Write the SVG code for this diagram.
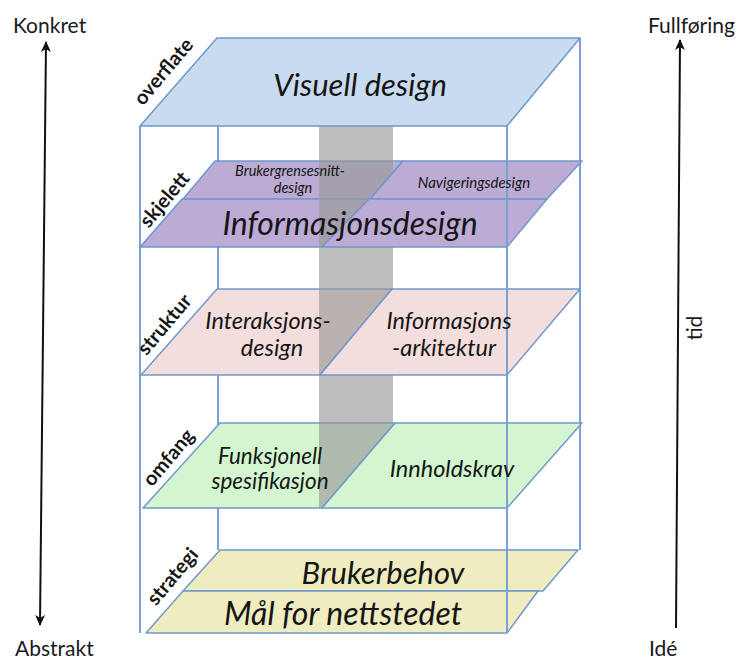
<svg xmlns="http://www.w3.org/2000/svg" width="742" height="660" viewBox="0 0 742 660">
<defs>
<marker id="ah" viewBox="0 0 12 12" refX="10" refY="6" markerWidth="6" markerHeight="6" markerUnits="strokeWidth" orient="auto-start-reverse">
<path d="M0,1 L11,6 L0,11 L3,6 Z" fill="#111"/>
</marker>
<style>
.frame{stroke:#7aa1d2;stroke-width:2;fill:none}
.pl{stroke:#6f98cd;stroke-width:1.5;stroke-linejoin:round}
.blue{fill:#c9dcef}
.purple{fill:#bcabd4}
.pink{fill:#f3dedd}
.green{fill:#d3f6d1}
.yellow{fill:#efedbf}
.it{font-family:Lato,"Open Sans",sans-serif;font-style:italic;fill:#161616;text-anchor:middle}
.side{font-family:Lato,"Open Sans",sans-serif;font-weight:bold;font-size:20px;fill:#161616;text-anchor:middle}
.axis{font-family:Lato,"Open Sans",sans-serif;font-size:21px;fill:#1a1a1a}
.arr{stroke:#111;stroke-width:2;fill:none}
</style>
</defs>
<rect width="742" height="660" fill="#fff"/>

<g id="frame-back">
<line class="frame" x1="218" y1="126" x2="218" y2="550"/>
<line class="frame" x1="580" y1="38" x2="580" y2="550"/>
<line class="frame" x1="140" y1="126" x2="140" y2="633"/>
</g>

<g id="skjelett">
<polygon class="pl purple" points="215,161 403,161 370,199 183,199"/>
<polygon class="pl purple" points="182,199 369,199 322,247 140,247"/>
</g>
<g id="struktur">
<polygon class="pl pink" points="217,289 392,289 320,375 141,375"/>
</g>
<g id="omfang">
<polygon class="pl green" points="220,423 395,423 322,508 143,508"/>
</g>

<g id="kolonne">
<rect x="319" y="126" width="74" height="382" fill="#9a9a9a" opacity="0.65"/>
</g>

<g id="skjelett-hoyre">
<polygon class="pl purple" points="403,161 582,161 547,199 370,199"/>
<polygon class="pl purple" points="369,199 547,199 507,247 322,247"/>
</g>
<g id="struktur-hoyre">
<polygon class="pl pink" points="392,289 580,289 507,375 320,375"/>
</g>
<g id="omfang-hoyre">
<polygon class="pl green" points="395,423 582,423 507,508 322,508"/>
</g>

<g id="overflate">
<polygon class="pl blue" points="217,38 580,38 507,126 140,126"/>
</g>

<g id="strategi">
<polygon class="pl yellow" points="220,550 578,550 543,591 183,591"/>
<polygon class="pl yellow" points="183,591 538,591 507,633 146,633"/>
</g>

<g id="frame-front">
<line class="frame" x1="507" y1="126" x2="507" y2="633"/>
</g>

<g id="tekster">
<text class="it" x="360" y="96" font-size="31">Visuell design</text>
<text class="it" x="290" y="176" font-size="14.5">Brukergrensesnitt-</text>
<text class="it" x="293" y="193" font-size="14.5">design</text>
<text class="it" x="474" y="188" font-size="15">Navigeringsdesign</text>
<text class="it" x="350" y="235" font-size="32">Informasjonsdesign</text>
<text class="it" x="268" y="329" font-size="23.5">Interaksjons-</text>
<text class="it" x="272" y="356" font-size="23.5">design</text>
<text class="it" x="449" y="329" font-size="23.5">Informasjons</text>
<text class="it" x="444" y="356" font-size="23.5">-arkitektur</text>
<text class="it" x="270" y="464" font-size="22.5">Funksjonell</text>
<text class="it" x="270" y="489" font-size="22.5">spesifikasjon</text>
<text class="it" x="452" y="477" font-size="23.5">Innholdskrav</text>
<text class="it" x="383" y="584" font-size="31">Brukerbehov</text>
<text class="it" x="343" y="625" font-size="32">Mål for nettstedet</text>
</g>

<g id="nivaa">
<text class="side" transform="translate(164,72) rotate(-50)" dy="0.3em">overflate</text>
<text class="side" transform="translate(165,200) rotate(-50)" dy="0.3em">skjelett</text>
<text class="side" transform="translate(165,325) rotate(-50)" dy="0.3em">struktur</text>
<text class="side" transform="translate(169,458) rotate(-50)" dy="0.3em">omfang</text>
<text class="side" transform="translate(173,577) rotate(-50)" dy="0.3em">strategi</text>
</g>

<g id="connectors">
<line class="arr" x1="46" y1="42" x2="40" y2="625" marker-start="url(#ah)" marker-end="url(#ah)"/>
<line class="arr" x1="676" y1="628" x2="680" y2="40" marker-end="url(#ah)"/>
</g>

<g id="akser">
<text class="axis" x="13" y="33">Konkret</text>
<text class="axis" x="15" y="656">Abstrakt</text>
<text class="axis" x="648" y="33">Fullføring</text>
<text class="axis" x="649" y="656">Idé</text>
<text class="axis" font-size="17" transform="translate(702,328) rotate(-90)" text-anchor="middle">tid</text>
</g>
</svg>
